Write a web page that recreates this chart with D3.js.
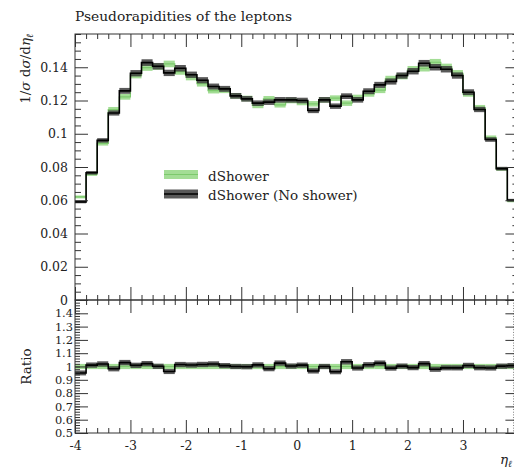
<!DOCTYPE html>
<html>
<head>
<meta charset="utf-8">
<script src="https://cdn.jsdelivr.net/npm/d3@7"></script>
<style>
  html, body { margin: 0; padding: 0; background: #fff; }
  svg { display: block; font-family: "DejaVu Serif", serif; }
</style>
</head>
<body>
<svg id="chart" width="514" height="473"></svg>
<script>
// Lower edges of the η_ℓ bins (width 0.2)
const binLow = [-4.0, -3.8, -3.6, -3.4, -3.2, -3.0, -2.8, -2.6, -2.4, -2.2,
                -2.0, -1.8, -1.6, -1.4, -1.2, -1.0, -0.8, -0.6, -0.4, -0.2,
                 0.0,  0.2,  0.4,  0.6,  0.8,  1.0,  1.2,  1.4,  1.6,  1.8,
                 2.0,  2.2,  2.4,  2.6,  2.8,  3.0,  3.2,  3.4,  3.6,  3.8];
const binWidth = 0.2;

// 1/σ dσ/dη_ℓ, dShower
const dShower = [0.0620, 0.0757, 0.0942, 0.1145, 0.1222, 0.1352, 0.1398, 0.1404, 0.1420, 0.1374,
                 0.1340, 0.1302, 0.1260, 0.1262, 0.1228, 0.1212, 0.1170, 0.1210, 0.1174, 0.1200,
                 0.1188, 0.1180, 0.1204, 0.1214, 0.1184, 0.1218, 0.1240, 0.1262, 0.1330, 0.1346,
                 0.1388, 0.1394, 0.1430, 0.1402, 0.1364, 0.1240, 0.1157, 0.0976, 0.0788, 0.0596];

// 1/σ dσ/dη_ℓ, dShower (No shower)
const dShowerNoShower = [0.0590, 0.0765, 0.0960, 0.1125, 0.1258, 0.1364, 0.1428, 0.1406, 0.1366, 0.1394,
                         0.1355, 0.1322, 0.1284, 0.1270, 0.1228, 0.1210, 0.1184, 0.1190, 0.1204, 0.1204,
                         0.1200, 0.1140, 0.1204, 0.1166, 0.1226, 0.1204, 0.1256, 0.1294, 0.1314, 0.1350,
                         0.1376, 0.1424, 0.1400, 0.1388, 0.1350, 0.1250, 0.1146, 0.0965, 0.0790, 0.0600];

// Relative statistical uncertainty drawn as the band around each histogram
const relUncertainty = 0.014;

const xTicks = [-4, -3, -2, -1, 0, 1, 2, 3];
const xTickLabels = ["-4", "-3", "-2", "-1", "0", "1", "2", "3"];
const yMainTicks = [0, 0.02, 0.04, 0.06, 0.08, 0.1, 0.12, 0.14];
const yMainTickLabels = ["0", "0.02", "0.04", "0.06", "0.08", "0.1", "0.12", "0.14"];
const yRatioTicks = [0.5, 0.6, 0.7, 0.8, 0.9, 1.0, 1.1, 1.2, 1.3, 1.4];
const yRatioTickLabels = ["0.5", "0.6", "0.7", "0.8", "0.9", "1", "1.1", "1.2", "1.3", "1.4"];

const seriesNames = ["dShower", "dShower (No shower)"];

// ---- layout ----
const pLeft = 75, pRight = 518.4, pTop = 34, pMid = 300, pBottom = 433;

const x = d3.scaleLinear().domain([-4, 4]).range([pLeft, pRight]);
const y = d3.scaleLinear().domain([0, 0.16]).range([pMid, pTop]);
const yr = d3.scaleLinear().domain([0.5, 1.5]).range([pBottom, pMid]);

const styles = [
  { band: "#a3dd95", bandOpacity: 1.0, line: "#7cc96c", width: 1.2 },
  { band: "#3c3c3c", bandOpacity: 0.85, line: "#000000", width: 1.6 }
];

const svg = d3.select("#chart");

svg.append("clipPath").attr("id", "clip-main").append("rect")
  .attr("x", pLeft).attr("y", pTop).attr("width", pRight - pLeft).attr("height", pMid - pTop);
svg.append("clipPath").attr("id", "clip-ratio").append("rect")
  .attr("x", pLeft).attr("y", pMid).attr("width", pRight - pLeft).attr("height", pBottom - pMid);

function drawHist(parent, values, yScale, style, rel) {
  const g = parent.append("g");
  g.selectAll("rect").data(binLow).join("rect")
    .attr("x", d => x(d))
    .attr("width", d => x(d + binWidth) - x(d))
    .attr("y", (d, i) => yScale(values[i] * (1 + rel[i])))
    .attr("height", (d, i) => yScale(values[i] * (1 - rel[i])) - yScale(values[i] * (1 + rel[i])))
    .attr("fill", style.band)
    .attr("fill-opacity", style.bandOpacity);
  const pts = binLow.map((d, i) => [d, values[i]]);
  pts.push([binLow[binLow.length - 1] + binWidth, values[values.length - 1]]);
  const line = d3.line().x(d => x(d[0])).y(d => yScale(d[1])).curve(d3.curveStepAfter);
  g.append("path").attr("d", line(pts))
    .attr("fill", "none").attr("stroke", style.line).attr("stroke-width", style.width);
}

const relArr = binLow.map(() => relUncertainty);

// main panel histograms
const gMain = svg.append("g").attr("clip-path", "url(#clip-main)");
drawHist(gMain, dShower, y, styles[0], relArr);
drawHist(gMain, dShowerNoShower, y, styles[1], relArr);

// ratio panel: each histogram divided by dShower
const ratioRef = dShower.map(() => 1);
const ratioNoShower = dShowerNoShower.map((v, i) => v / dShower[i]);
const relRatio = binLow.map(() => relUncertainty * 1.4);
const gRatio = svg.append("g").attr("clip-path", "url(#clip-ratio)");
drawHist(gRatio, ratioRef, yr, styles[0], relRatio);
drawHist(gRatio, ratioNoShower, yr, styles[1], relRatio);

// ---- ticks ----
const xMinor = d3.range(-20, 21).map(k => k / 5).filter(v => !xTicks.includes(v) && v !== 4);
const yMainMinor = d3.range(0, 33).map(k => +(k * 0.005).toFixed(3)).filter(v => !yMainTicks.includes(v));
const yRatioMinor = d3.range(25, 76).map(k => +(k * 0.02).toFixed(2));

function tickSet(axisFn, scale, values, size, tx, ty) {
  svg.append("g")
    .attr("transform", `translate(${tx},${ty})`)
    .attr("color", "#333")
    .call(axisFn(scale).tickValues(values).tickSize(size).tickFormat(""))
    .call(g => g.select(".domain").remove());
}

// main panel
tickSet(d3.axisRight, y, yMainTicks, 13, pLeft, 0);
tickSet(d3.axisRight, y, yMainMinor, 6, pLeft, 0);
tickSet(d3.axisLeft, y, yMainTicks, 13, pRight, 0);
tickSet(d3.axisLeft, y, yMainMinor, 6, pRight, 0);
tickSet(d3.axisBottom, x, xTicks, 13, 0, pTop);
tickSet(d3.axisBottom, x, xMinor, 5, 0, pTop);
tickSet(d3.axisTop, x, xTicks, 13, 0, pMid);
tickSet(d3.axisTop, x, xMinor, 5, 0, pMid);

// ratio panel
tickSet(d3.axisRight, yr, yRatioTicks, 13, pLeft, 0);
tickSet(d3.axisRight, yr, yRatioMinor, 5, pLeft, 0);
tickSet(d3.axisLeft, yr, yRatioTicks, 13, pRight, 0);
tickSet(d3.axisLeft, yr, yRatioMinor, 5, pRight, 0);
tickSet(d3.axisBottom, x, xTicks, 13, 0, pMid);
tickSet(d3.axisBottom, x, xMinor, 5, 0, pMid);
tickSet(d3.axisTop, x, xTicks, 13, 0, pBottom);
tickSet(d3.axisTop, x, xMinor, 5, 0, pBottom);

// frames
svg.append("rect").attr("x", pLeft).attr("y", pTop).attr("width", pRight - pLeft).attr("height", pMid - pTop)
  .attr("fill", "none").attr("stroke", "#333").attr("stroke-width", 1);
svg.append("rect").attr("x", pLeft).attr("y", pMid).attr("width", pRight - pLeft).attr("height", pBottom - pMid)
  .attr("fill", "none").attr("stroke", "#333").attr("stroke-width", 1);

// ---- tick labels ----
function labelAxis(axis, tx, ty, size) {
  svg.append("g")
    .attr("transform", `translate(${tx},${ty})`)
    .call(axis)
    .call(g => g.select(".domain").remove())
    .call(g => g.selectAll("line").remove())
    .attr("font-family", "DejaVu Serif, serif")
    .attr("font-size", size)
    .call(g => g.selectAll("text").attr("fill", "#222"));
}
labelAxis(d3.axisLeft(y).tickValues(yMainTicks).tickSize(0).tickPadding(7)
  .tickFormat((d, i) => yMainTickLabels[i]), pLeft, 0, 12.5);
labelAxis(d3.axisLeft(yr).tickValues(yRatioTicks).tickSize(0).tickPadding(2)
  .tickFormat((d, i) => yRatioTickLabels[i]), pLeft, 0, 11.4);
labelAxis(d3.axisBottom(x).tickValues(xTicks).tickSize(0).tickPadding(8)
  .tickFormat((d, i) => xTickLabels[i]), 0, pBottom, 12.5);

// ---- titles ----
svg.append("text").attr("x", pLeft).attr("y", 21)
  .attr("font-size", 13.8).attr("fill", "#222")
  .text("Pseudorapidities of the leptons");

const yLab = svg.append("text")
  .attr("transform", `translate(30,${pTop}) rotate(-90)`)
  .attr("text-anchor", "end").attr("font-size", 13.5).attr("fill", "#222");
yLab.append("tspan").text("1/");
yLab.append("tspan").attr("font-style", "italic").text("σ");
yLab.append("tspan").text(" d");
yLab.append("tspan").attr("font-style", "italic").text("σ");
yLab.append("tspan").text("/d");
yLab.append("tspan").attr("font-style", "italic").text("η");
yLab.append("tspan").attr("font-style", "italic").attr("font-size", 9.5).attr("dy", 3).text("ℓ");

svg.append("text")
  .attr("transform", `translate(31,${yr(1)}) rotate(-90)`)
  .attr("text-anchor", "middle").attr("font-size", 13.5).attr("fill", "#222")
  .text("Ratio");

const xLab = svg.append("text").attr("x", 512).attr("y", 464)
  .attr("text-anchor", "end").attr("font-size", 13.5).attr("fill", "#222");
xLab.append("tspan").attr("font-style", "italic").text("η");
xLab.append("tspan").attr("font-style", "italic").attr("font-size", 9.5).attr("dy", 3).text("ℓ");

// ---- legend ----
const legend = svg.append("g").attr("transform", "translate(164,174.5)");
seriesNames.forEach((name, i) => {
  const row = legend.append("g").attr("transform", `translate(0,${i * 19.5})`);
  row.append("rect").attr("x", 0).attr("y", -4.5).attr("width", 34).attr("height", 9)
    .attr("fill", styles[i].band).attr("fill-opacity", styles[i].bandOpacity);
  row.append("line").attr("x1", 0).attr("x2", 34).attr("y1", 0).attr("y2", 0)
    .attr("stroke", styles[i].line).attr("stroke-width", styles[i].width);
  row.append("text").attr("x", 44).attr("y", 6).attr("font-size", 13.5).attr("fill", "#222")
    .text(name);
});
</script>
</body>
</html>
